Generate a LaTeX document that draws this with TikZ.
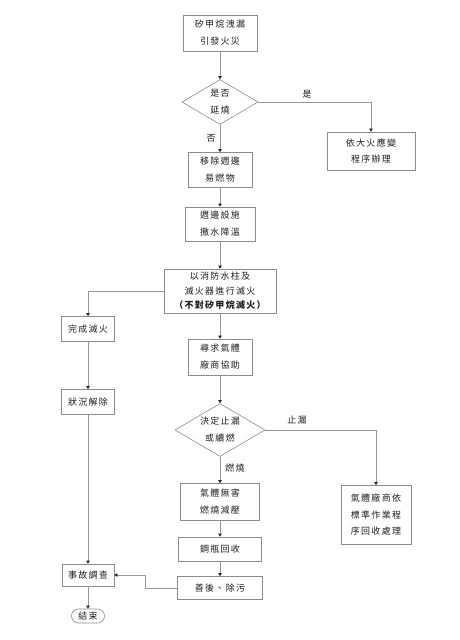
\documentclass[tikz,border=0pt]{standalone}
\usepackage{fontspec}
\setmainfont{Noto Sans CJK TC}
\usetikzlibrary{arrows.meta,shapes.geometric,positioning}
\begin{document}
\begin{tikzpicture}[x=1pt,y=-1pt,
  stepbox/.style={draw={rgb,255:red,140;green,140;blue,140},line width=0.6pt,fill=white,inner sep=0pt,align=center,text={rgb,255:red,30;green,30;blue,30},font=\fontsize{9}{17}\selectfont\addfontfeature{LetterSpace=14}},
  tightbox/.style={stepbox,font=\fontsize{9}{14.5}\selectfont\addfontfeature{LetterSpace=14}},
  choice/.style={stepbox,shape=diamond,aspect=1.7},
  endcap/.style={stepbox,rounded corners=7pt},
  lbl/.style={inner sep=0pt,text={rgb,255:red,30;green,30;blue,30},font=\fontsize{9}{10}\selectfont\addfontfeature{LetterSpace=14}},
  link/.style={draw={rgb,255:red,150;green,150;blue,150},line width=0.6pt,-{Triangle[length=3pt,width=3.4pt,color={rgb,255:red,40;green,40;blue,40}]}}]
\path[use as bounding box] (0,0) rectangle (460,640);
\node[stepbox,minimum width=74pt,minimum height=36pt] (leak) at (220,33) {矽甲烷洩漏\\引發火災};
\node[choice,minimum width=76pt,minimum height=45pt] (spread) at (220,102) {是否\\延燒};
\node[stepbox,minimum width=88pt,minimum height=38pt] (fireplan) at (371,151) {依大火應變\\程序辦理};
\node[stepbox,minimum width=64pt,minimum height=35pt] (remove) at (220,170) {移除週邊\\易燃物};
\node[stepbox,minimum width=70pt,minimum height=34pt] (cool) at (220,224) {週邊設施\\撒水降溫};
\node[tightbox,minimum width=112pt,minimum height=44pt] (hydrant) at (220,291) {以消防水柱及\\滅火器進行滅火\\{\bfseries （不對矽甲烷滅火）}};
\node[stepbox,minimum width=53pt,minimum height=25pt] (done) at (88,329) {完成滅火};
\node[stepbox,minimum width=53pt,minimum height=25pt] (clear) at (88,402) {狀況解除};
\node[stepbox,minimum width=64pt,minimum height=36pt] (seek) at (220,357) {尋求氣體\\廠商協助};
\node[choice,minimum width=90pt,minimum height=53pt] (decide) at (220,430) {決定止漏\\或續燃};
\node[stepbox,minimum width=79pt,minimum height=37pt] (burn) at (220,502) {氣體無害\\燃燒減壓};
\node[stepbox,font=\fontsize{9}{16.5}\selectfont\addfontfeature{LetterSpace=14},minimum width=70pt,minimum height=59pt] (recover) at (376,515) {氣體廠商依\\標準作業程\\序回收處理};
\node[stepbox,minimum width=83pt,minimum height=24pt] (bottle) at (220,549) {鋼瓶回收};
\node[stepbox,minimum width=85pt,minimum height=23pt] (cleanup) at (220,588) {善後、除污};
\node[stepbox,minimum width=52pt,minimum height=22pt] (invest) at (88,575) {事故調查};
\node[endcap,minimum width=33pt,minimum height=14pt] (finish) at (88,616) {結束};
\node[lbl] (yes) at (307,94) {是};
\node[lbl] (no) at (211,138) {否};
\node[lbl] (stop) at (297,420) {止漏};
\node[lbl] (keep) at (235,468) {燃燒};
\draw[link] (leak) -- (spread);
\draw[link] (spread.east) -| (fireplan.north);
\draw[link] (spread) -- (remove);
\draw[link] (remove) -- (cool);
\draw[link] (cool) -- (hydrant);
\draw[link] (hydrant.west) -| (done.north);
\draw[link] (hydrant) -- (seek);
\draw[link] (done) -- (clear);
\draw[link] (clear) -- (invest);
\draw[link] (seek) -- (decide);
\draw[link] (decide.east) -| (recover.north);
\draw[link] (decide) -- (burn);
\draw[link] (burn) -- (bottle);
\draw[link] (bottle) -- (cleanup);
\draw[link] (cleanup.west) -- ++(-32,0) |- (invest.east);
\draw[link] (invest) -- (finish);
\end{tikzpicture}
\end{document}
